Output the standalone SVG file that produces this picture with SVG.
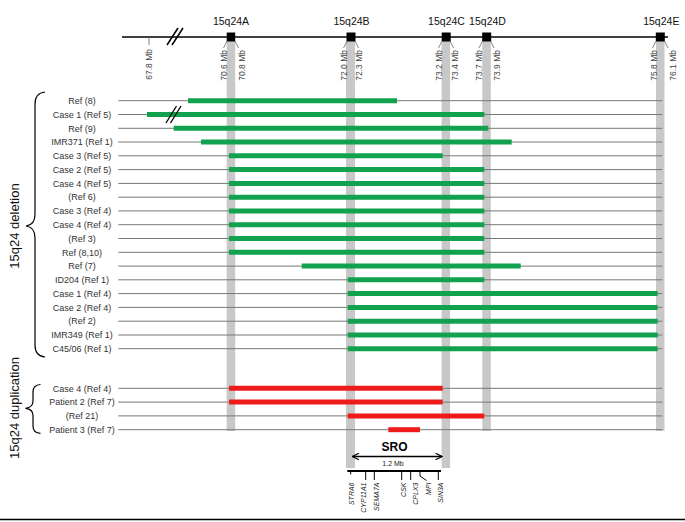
<svg xmlns="http://www.w3.org/2000/svg" width="685" height="522" viewBox="0 0 685 522">
<style>
text{font-family:"Liberation Sans",Arial,sans-serif}
.hdr{font-size:10.5px;fill:#111;text-anchor:middle}
.mb{font-size:8.5px;fill:#444;text-anchor:end}
.lbl{font-size:9px;fill:#333;text-anchor:middle}
.grp{font-size:13px;fill:#111;text-anchor:middle}
.gene{font-size:7px;fill:#222;font-style:italic;text-anchor:end}
.band{fill:#c8c8c8}
.sq{fill:#000}
.row{stroke:#777;stroke-width:1}
.del{stroke:#12a24f;stroke-width:5}
.dup{stroke:#ee1b1b;stroke-width:5}
.tk{stroke:#666;stroke-width:0.8;fill:none}
.blk{stroke:#000;fill:none}
</style>
<defs>
<marker id="ah" viewBox="0 0 10 10" refX="9" refY="5" markerWidth="8" markerHeight="8" orient="auto-start-reverse" markerUnits="userSpaceOnUse">
<path d="M1,1 L9,5 L1,9" fill="none" stroke="#000" stroke-width="1.6"/>
</marker>
</defs>
<rect width="685" height="522" fill="#fff"/>

<g id="bands">
<rect class="band" x="226.7" y="41" width="8.5" height="390"/>
<rect class="band" x="346" y="41" width="9" height="427"/>
<rect class="band" x="441.6" y="41" width="8.5" height="427"/>
<rect class="band" x="482.3" y="41" width="8.5" height="390"/>
<rect class="band" x="656" y="41" width="8.5" height="390"/>
</g>

<g id="axis">
<line class="blk" x1="122" y1="37" x2="668" y2="37" stroke-width="1.5"/>
<line class="tk" x1="149" y1="37" x2="149" y2="45"/>
<line class="blk" x1="167" y1="45" x2="178" y2="28" stroke-width="1.5"/>
<line class="blk" x1="172" y1="45" x2="183" y2="28" stroke-width="1.5"/>
<text class="mb" transform="translate(151.7,49) rotate(-90)">67.8 Mb</text>
</g>

<g id="m15q24A">
<rect class="sq" x="226.7" y="32.5" width="8.5" height="9"/>
<text class="hdr" x="231" y="25">15q24A</text>
<path class="tk" d="M227,41 L223.5,48 M235,41 L238.5,48"/>
<text class="mb" transform="translate(227,50) rotate(-90)">70.6 Mb</text>
<text class="mb" transform="translate(245,50) rotate(-90)">70.8 Mb</text>
</g>
<g id="m15q24B">
<rect class="sq" x="346.5" y="32.5" width="9" height="9"/>
<text class="hdr" x="351.5" y="25">15q24B</text>
<path class="tk" d="M347,41 L343.5,48 M355,41 L358.5,48"/>
<text class="mb" transform="translate(347.3,50) rotate(-90)">72.0 Mb</text>
<text class="mb" transform="translate(362.3,50) rotate(-90)">72.3 Mb</text>
</g>
<g id="m15q24C">
<rect class="sq" x="441.7" y="32.5" width="9" height="9"/>
<text class="hdr" x="446.5" y="25">15q24C</text>
<path class="tk" d="M442,41 L438.5,48 M450,41 L453.5,48"/>
<text class="mb" transform="translate(442.3,50) rotate(-90)">73.2 Mb</text>
<text class="mb" transform="translate(458.3,50) rotate(-90)">73.4 Mb</text>
</g>
<g id="m15q24D">
<rect class="sq" x="482.2" y="32.5" width="9" height="9"/>
<text class="hdr" x="487.5" y="25">15q24D</text>
<path class="tk" d="M482.5,41 L479,48 M490.5,41 L494,48"/>
<text class="mb" transform="translate(482.3,50) rotate(-90)">73.7 Mb</text>
<text class="mb" transform="translate(500,50) rotate(-90)">73.9 Mb</text>
</g>
<g id="m15q24E">
<rect class="sq" x="655.8" y="32.5" width="9" height="9"/>
<text class="hdr" x="661.3" y="25">15q24E</text>
<path class="tk" d="M656,41 L652.5,48 M664.5,41 L668,48"/>
<text class="mb" transform="translate(657.3,50) rotate(-90)">75.8 Mb</text>
<text class="mb" transform="translate(675.7,50) rotate(-90)">76.1 Mb</text>
</g>

<g id="deletion-group">
<path class="blk" stroke-width="1.2" d="M45,92 Q35,93 35,104 L35,214 Q35,225 26,226 Q35,227 35,238 L35,345 Q35,356 45,357"/>
<text class="grp" transform="translate(19,226) rotate(-90)">15q24 deletion</text>
</g>
<g id="duplication-group">
<path class="blk" stroke-width="1.2" d="M40.5,384.5 Q33,385 33,392 L33,401 Q33,407.5 25.5,408.3 Q33,409 33,415.5 L33,426 Q33,433 40.5,433.3"/>
<text class="grp" transform="translate(19,408) rotate(-90)">15q24 duplication</text>
</g>

<g id="rows">
<g id="r1"><text class="lbl" x="82" y="103.9">Ref (8)</text><line class="row" x1="118.3" y1="100.7" x2="662.3" y2="100.7"/><line class="del" x1="188" y1="100.7" x2="397" y2="100.7"/></g>
<g id="r2"><text class="lbl" x="82" y="117.7">Case 1 (Ref 5)</text><line class="row" x1="118.3" y1="114.5" x2="662.3" y2="114.5"/><line class="del" x1="147" y1="114.5" x2="484.3" y2="114.5"/>
<line class="blk" x1="166" y1="123" x2="176.5" y2="106" stroke-width="1.3"/><line class="blk" x1="170.5" y1="123" x2="181" y2="106" stroke-width="1.3"/></g>
<g id="r3"><text class="lbl" x="82" y="131.5">Ref (9)</text><line class="row" x1="118.3" y1="128.3" x2="662.3" y2="128.3"/><line class="del" x1="173.7" y1="128.3" x2="488.3" y2="128.3"/></g>
<g id="r4"><text class="lbl" x="82" y="145.2">IMR371 (Ref 1)</text><line class="row" x1="118.3" y1="142" x2="662.3" y2="142"/><line class="del" x1="201" y1="142" x2="511.7" y2="142"/></g>
<g id="r5"><text class="lbl" x="82" y="159">Case 3 (Ref 5)</text><line class="row" x1="118.3" y1="155.8" x2="662.3" y2="155.8"/><line class="del" x1="229" y1="155.8" x2="442.7" y2="155.8"/></g>
<g id="r6"><text class="lbl" x="82" y="172.8">Case 2 (Ref 5)</text><line class="row" x1="118.3" y1="169.6" x2="662.3" y2="169.6"/><line class="del" x1="229" y1="169.6" x2="484.3" y2="169.6"/></g>
<g id="r7"><text class="lbl" x="82" y="186.6">Case 4 (Ref 5)</text><line class="row" x1="118.3" y1="183.4" x2="662.3" y2="183.4"/><line class="del" x1="229" y1="183.4" x2="484.3" y2="183.4"/></g>
<g id="r8"><text class="lbl" x="82" y="200.4">(Ref 6)</text><line class="row" x1="118.3" y1="197.2" x2="662.3" y2="197.2"/><line class="del" x1="229" y1="197.2" x2="484.3" y2="197.2"/></g>
<g id="r9"><text class="lbl" x="82" y="214.1">Case 3 (Ref 4)</text><line class="row" x1="118.3" y1="210.9" x2="662.3" y2="210.9"/><line class="del" x1="229" y1="210.9" x2="484.3" y2="210.9"/></g>
<g id="r10"><text class="lbl" x="82" y="227.9">Case 4 (Ref 4)</text><line class="row" x1="118.3" y1="224.7" x2="662.3" y2="224.7"/><line class="del" x1="229" y1="224.7" x2="484.3" y2="224.7"/></g>
<g id="r11"><text class="lbl" x="82" y="241.7">(Ref 3)</text><line class="row" x1="118.3" y1="238.5" x2="662.3" y2="238.5"/><line class="del" x1="229" y1="238.5" x2="484.3" y2="238.5"/></g>
<g id="r12"><text class="lbl" x="82" y="255.5">Ref (8,10)</text><line class="row" x1="118.3" y1="252.3" x2="662.3" y2="252.3"/><line class="del" x1="229" y1="252.3" x2="484.3" y2="252.3"/></g>
<g id="r13"><text class="lbl" x="82" y="269.3">Ref (7)</text><line class="row" x1="118.3" y1="266.1" x2="662.3" y2="266.1"/><line class="del" x1="301.7" y1="266.1" x2="520.7" y2="266.1"/></g>
<g id="r14"><text class="lbl" x="82" y="283">ID204 (Ref 1)</text><line class="row" x1="118.3" y1="279.8" x2="662.3" y2="279.8"/><line class="del" x1="347.7" y1="279.8" x2="484.3" y2="279.8"/></g>
<g id="r15"><text class="lbl" x="82" y="296.8">Case 1 (Ref 4)</text><line class="row" x1="118.3" y1="293.6" x2="662.3" y2="293.6"/><line class="del" x1="347.7" y1="293.6" x2="657.7" y2="293.6"/></g>
<g id="r16"><text class="lbl" x="82" y="310.6">Case 2 (Ref 4)</text><line class="row" x1="118.3" y1="307.4" x2="662.3" y2="307.4"/><line class="del" x1="347.7" y1="307.4" x2="657.7" y2="307.4"/></g>
<g id="r17"><text class="lbl" x="82" y="324.4">(Ref 2)</text><line class="row" x1="118.3" y1="321.2" x2="662.3" y2="321.2"/><line class="del" x1="347.7" y1="321.2" x2="657.7" y2="321.2"/></g>
<g id="r18"><text class="lbl" x="82" y="338.2">IMR349 (Ref 1)</text><line class="row" x1="118.3" y1="335" x2="662.3" y2="335"/><line class="del" x1="347.7" y1="335" x2="657.7" y2="335"/></g>
<g id="r19"><text class="lbl" x="82" y="351.9">C45/06 (Ref 1)</text><line class="row" x1="118.3" y1="348.7" x2="662.3" y2="348.7"/><line class="del" x1="347.7" y1="348.7" x2="657.7" y2="348.7"/></g>

<g id="d1"><text class="lbl" x="82" y="391.5">Case 4 (Ref 4)</text><line class="row" x1="118.3" y1="388.3" x2="662.3" y2="388.3"/><line class="dup" x1="229" y1="388.3" x2="442.7" y2="388.3"/></g>
<g id="d2"><text class="lbl" x="82" y="405.3">Patient 2 (Ref 7)</text><line class="row" x1="118.3" y1="402.1" x2="662.3" y2="402.1"/><line class="dup" x1="229" y1="402.1" x2="442.7" y2="402.1"/></g>
<g id="d3"><text class="lbl" x="82" y="419.1">(Ref 21)</text><line class="row" x1="118.3" y1="415.9" x2="662.3" y2="415.9"/><line class="dup" x1="347.7" y1="415.9" x2="484.3" y2="415.9"/></g>
<g id="d4"><text class="lbl" x="82" y="432.9">Patient 3 (Ref 7)</text><line class="row" x1="118.3" y1="429.7" x2="662.3" y2="429.7"/><line class="dup" x1="388.3" y1="429.7" x2="420" y2="429.7"/></g>
</g>

<g id="sro">
<text x="394.5" y="451" font-size="12" font-weight="bold" text-anchor="middle" fill="#000">SRO</text>
<line class="blk" x1="352.5" y1="456.5" x2="442" y2="456.5" stroke-width="1.5" marker-start="url(#ah)" marker-end="url(#ah)"/>
<text x="393" y="466" font-size="7" text-anchor="middle" fill="#222">1.2 Mb</text>
</g>

<g id="genes">
<line class="blk" x1="347.3" y1="471" x2="441" y2="471" stroke-width="2"/>
<path class="blk" stroke-width="1" d="M350.7,471 V474.5 M365.7,471 V480 M374.3,471 V480 M401.7,471 V480 M410.7,471 V480 M420,471 V476 L426.5,480.5 M438.3,471 V480"/>
<text class="gene" transform="translate(353.8,482.5) rotate(-90)">STRA6</text>
<text class="gene" transform="translate(366.4,482.5) rotate(-90)">CYP11A1</text>
<text class="gene" transform="translate(378.6,482.5) rotate(-90)">SEMA7A</text>
<text class="gene" transform="translate(405.5,482.5) rotate(-90)">CSK</text>
<text class="gene" transform="translate(418.3,482.5) rotate(-90)">CPLX3</text>
<text class="gene" transform="translate(431,482.5) rotate(-90)">MPI</text>
<text class="gene" transform="translate(442.6,482.5) rotate(-90)">SIN3A</text>
</g>

<line x1="0" y1="519.5" x2="685" y2="519.5" stroke="#000" stroke-width="1.5"/>
</svg>
